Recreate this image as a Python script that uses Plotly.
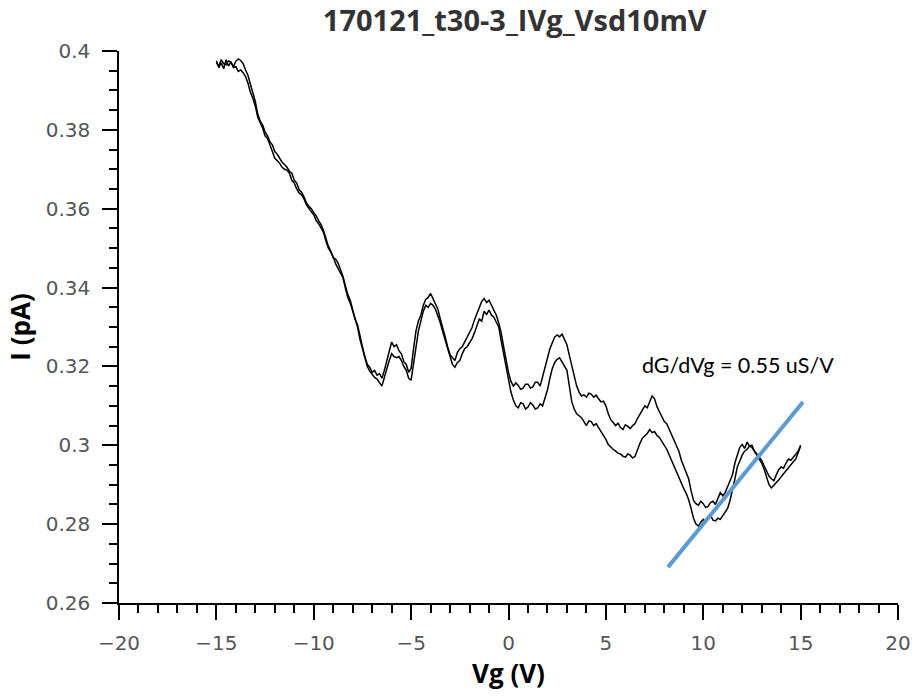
import plotly.graph_objects as go

# ---- data (gate sweep, both directions) ----
vg = [-15.0, -14.875, -14.75, -14.625, -14.5, -14.375, -14.25, -14.125,
      -14.0, -13.875, -13.75, -13.625, -13.5, -13.375, -13.25, -13.125,
      -13.0, -12.875, -12.75, -12.625, -12.5, -12.375, -12.25, -12.125,
      -12.0, -11.875, -11.75, -11.625, -11.5, -11.375, -11.25, -11.125,
      -11.0, -10.875, -10.75, -10.625, -10.5, -10.375, -10.25, -10.125,
      -10.0, -9.875, -9.75, -9.625, -9.5, -9.375, -9.25, -9.125,
      -9.0, -8.875, -8.75, -8.625, -8.5, -8.375, -8.25, -8.125,
      -8.0, -7.875, -7.75, -7.625, -7.5, -7.375, -7.25, -7.125,
      -7.0, -6.875, -6.75, -6.625, -6.5, -6.375, -6.25, -6.125,
      -6.0, -5.875, -5.75, -5.625, -5.5, -5.375, -5.25, -5.125,
      -5.0, -4.875, -4.75, -4.625, -4.5, -4.375, -4.25, -4.125,
      -4.0, -3.875, -3.75, -3.625, -3.5, -3.375, -3.25, -3.125,
      -3.0, -2.875, -2.75, -2.625, -2.5, -2.375, -2.25, -2.125,
      -2.0, -1.875, -1.75, -1.625, -1.5, -1.375, -1.25, -1.125,
      -1.0, -0.875, -0.75, -0.625, -0.5, -0.375, -0.25, -0.125,
      0.0, 0.125, 0.25, 0.375, 0.5, 0.625, 0.75, 0.875,
      1.0, 1.125, 1.25, 1.375, 1.5, 1.625, 1.75, 1.875,
      2.0, 2.125, 2.25, 2.375, 2.5, 2.625, 2.75, 2.875,
      3.0, 3.125, 3.25, 3.375, 3.5, 3.625, 3.75, 3.875,
      4.0, 4.125, 4.25, 4.375, 4.5, 4.625, 4.75, 4.875,
      5.0, 5.125, 5.25, 5.375, 5.5, 5.625, 5.75, 5.875,
      6.0, 6.125, 6.25, 6.375, 6.5, 6.625, 6.75, 6.875,
      7.0, 7.125, 7.25, 7.375, 7.5, 7.625, 7.75, 7.875,
      8.0, 8.125, 8.25, 8.375, 8.5, 8.625, 8.75, 8.875,
      9.0, 9.125, 9.25, 9.375, 9.5, 9.625, 9.75, 9.875,
      10.0, 10.125, 10.25, 10.375, 10.5, 10.625, 10.75, 10.875,
      11.0, 11.125, 11.25, 11.375, 11.5, 11.625, 11.75, 11.875,
      12.0, 12.125, 12.25, 12.375, 12.5, 12.625, 12.75, 12.875,
      13.0, 13.125, 13.25, 13.375, 13.5, 13.625, 13.75, 13.875,
      14.0, 14.125, 14.25, 14.375, 14.5, 14.625, 14.75, 14.875,
      15.0]

i_sweep_up = [0.3975, 0.3958, 0.3970, 0.3955, 0.3978, 0.3962, 0.3972, 0.3960,
              0.3974, 0.3980, 0.3976, 0.3968, 0.3952, 0.3938, 0.3915, 0.3895,
              0.3872, 0.3840, 0.3822, 0.3812, 0.3795, 0.3785, 0.3770, 0.3762,
              0.3745, 0.3738, 0.3726, 0.3718, 0.3712, 0.3705, 0.3695, 0.3690,
              0.3672, 0.3665, 0.3648, 0.3642, 0.3630, 0.3615, 0.3606, 0.3600,
              0.3590, 0.3582, 0.3570, 0.3560, 0.3545, 0.3525, 0.3505, 0.3492,
              0.3475, 0.3472, 0.3462, 0.3445, 0.3428, 0.3405, 0.3382, 0.3368,
              0.3345, 0.3320, 0.3305, 0.3275, 0.3250, 0.3225, 0.3205, 0.3198,
              0.3185, 0.3190, 0.3178, 0.3182, 0.3170, 0.3190, 0.3215, 0.3240,
              0.3262, 0.3250, 0.3255, 0.3240, 0.3232, 0.3212, 0.3205, 0.3185,
              0.3195, 0.3245, 0.3290, 0.3315, 0.3330, 0.3355, 0.3370, 0.3375,
              0.3385, 0.3372, 0.3360, 0.3345, 0.3320, 0.3300, 0.3275, 0.3250,
              0.3230, 0.3222, 0.3215, 0.3235, 0.3245, 0.3250, 0.3262, 0.3270,
              0.3285, 0.3298, 0.3318, 0.3335, 0.3350, 0.3365, 0.3372, 0.3362,
              0.3368, 0.3355, 0.3345, 0.3330, 0.3310, 0.3285, 0.3250, 0.3215,
              0.3185, 0.3162, 0.3150, 0.3158, 0.3152, 0.3142, 0.3145, 0.3155,
              0.3155, 0.3145, 0.3148, 0.3160, 0.3160, 0.3150, 0.3172, 0.3195,
              0.3220, 0.3245, 0.3260, 0.3275, 0.3280, 0.3275, 0.3282, 0.3270,
              0.3255, 0.3228, 0.3200, 0.3172, 0.3150, 0.3135, 0.3125, 0.3128,
              0.3122, 0.3132, 0.3130, 0.3122, 0.3127, 0.3118, 0.3110, 0.3112,
              0.3100, 0.3080, 0.3065, 0.3058, 0.3050, 0.3056, 0.3045, 0.3040,
              0.3052, 0.3048, 0.3042, 0.3050, 0.3055, 0.3068, 0.3080, 0.3092,
              0.3100, 0.3095, 0.3108, 0.3125, 0.3118, 0.3098, 0.3085, 0.3072,
              0.3060, 0.3055, 0.3040, 0.3025, 0.3010, 0.3000, 0.2985, 0.2962,
              0.2945, 0.2932, 0.2915, 0.2885, 0.2860, 0.2852, 0.2848, 0.2858,
              0.2852, 0.2842, 0.2845, 0.2855, 0.2858, 0.2850, 0.2866, 0.2880,
              0.2872, 0.2880, 0.2895, 0.2910, 0.2925, 0.2955, 0.2975, 0.2995,
              0.3002, 0.2992, 0.3008, 0.2998, 0.3000, 0.2985, 0.2978, 0.2970,
              0.2962, 0.2948, 0.2935, 0.2922, 0.2915, 0.2910, 0.2925, 0.2938,
              0.2945, 0.2942, 0.2955, 0.2965, 0.2962, 0.2970, 0.2975, 0.2985,
              0.3000]

i_sweep_down = [0.3970, 0.3962, 0.3978, 0.3968, 0.3965, 0.3975, 0.3972, 0.3958,
                0.3960, 0.3948, 0.3952, 0.3945, 0.3935, 0.3918, 0.3895, 0.3880,
                0.3860, 0.3832, 0.3818, 0.3805, 0.3785, 0.3778, 0.3762, 0.3742,
                0.3728, 0.3722, 0.3715, 0.3705, 0.3700, 0.3698, 0.3690, 0.3672,
                0.3665, 0.3650, 0.3640, 0.3635, 0.3625, 0.3610, 0.3600, 0.3592,
                0.3585, 0.3570, 0.3562, 0.3552, 0.3540, 0.3518, 0.3500, 0.3490,
                0.3478, 0.3460, 0.3448, 0.3440, 0.3425, 0.3398, 0.3375, 0.3360,
                0.3340, 0.3318, 0.3300, 0.3268, 0.3245, 0.3218, 0.3200, 0.3188,
                0.3180, 0.3172, 0.3168, 0.3160, 0.3150, 0.3172, 0.3195, 0.3215,
                0.3232, 0.3225, 0.3222, 0.3225, 0.3215, 0.3200, 0.3190, 0.3170,
                0.3165, 0.3205, 0.3250, 0.3290, 0.3315, 0.3340, 0.3355, 0.3350,
                0.3360, 0.3355, 0.3345, 0.3330, 0.3310, 0.3288, 0.3265, 0.3242,
                0.3225, 0.3205, 0.3198, 0.3210, 0.3215, 0.3232, 0.3245, 0.3250,
                0.3260, 0.3270, 0.3285, 0.3300, 0.3320, 0.3315, 0.3340, 0.3332,
                0.3343, 0.3330, 0.3325, 0.3312, 0.3300, 0.3265, 0.3230, 0.3195,
                0.3160, 0.3135, 0.3115, 0.3100, 0.3095, 0.3108, 0.3105, 0.3092,
                0.3097, 0.3108, 0.3102, 0.3092, 0.3095, 0.3105, 0.3100, 0.3118,
                0.3140, 0.3170, 0.3195, 0.3210, 0.3218, 0.3222, 0.3210, 0.3202,
                0.3190, 0.3150, 0.3110, 0.3092, 0.3080, 0.3075, 0.3070, 0.3060,
                0.3050, 0.3062, 0.3060, 0.3050, 0.3055, 0.3045, 0.3035, 0.3028,
                0.3015, 0.3002, 0.2995, 0.2990, 0.2985, 0.2980, 0.2978, 0.2972,
                0.2970, 0.2978, 0.2975, 0.2968, 0.2972, 0.2990, 0.3005, 0.3018,
                0.3025, 0.3030, 0.3040, 0.3032, 0.3035, 0.3025, 0.3020, 0.3008,
                0.3000, 0.2990, 0.2975, 0.2962, 0.2945, 0.2932, 0.2920, 0.2905,
                0.2890, 0.2878, 0.2862, 0.2840, 0.2815, 0.2800, 0.2795, 0.2805,
                0.2812, 0.2805, 0.2818, 0.2822, 0.2810, 0.2808, 0.2815, 0.2812,
                0.2822, 0.2830, 0.2840, 0.2860, 0.2885, 0.2915, 0.2945, 0.2962,
                0.2975, 0.2985, 0.2990, 0.2998, 0.2995, 0.2985, 0.2975, 0.2968,
                0.2955, 0.2940, 0.2920, 0.2900, 0.2892, 0.2898, 0.2905, 0.2912,
                0.2920, 0.2928, 0.2935, 0.2945, 0.2950, 0.2958, 0.2965, 0.2980,
                0.2998]

fit_vg = [8.19, 15.12]
fit_i = [0.2691, 0.3110]

title_text = "170121_t30-3_IVg_Vsd10mV"
x_title = "Vg (V)"
y_title = "I (pA)"
note_text = "dG/dVg = 0.55 uS/V"

fig = go.Figure()
fig.add_trace(go.Scatter(x=vg, y=i_sweep_up, mode="lines",
                         line=dict(color="black", width=1.5), showlegend=False))
fig.add_trace(go.Scatter(x=vg, y=i_sweep_down, mode="lines",
                         line=dict(color="black", width=1.5), showlegend=False))
fig.add_trace(go.Scatter(x=fit_vg, y=fit_i, mode="lines",
                         line=dict(color="#5B9BD5", width=4), showlegend=False))

fig.add_annotation(x=6.76, y=0.3204, text=note_text, showarrow=False,
                   xanchor="left", yanchor="middle",
                   font=dict(family="Lato", size=21.5, color="black"))

axis_common = dict(showline=True, linecolor="black", linewidth=1.5,
                   ticks="outside", ticklen=15, tickwidth=1.5, tickcolor="black",
                   showgrid=False, zeroline=False, automargin=False,
                   tickfont=dict(family="DejaVu Sans", size=20, color="#555555"))

fig.update_layout(
    width=916, height=696,
    margin=dict(l=119, r=18, t=51, b=93),
    plot_bgcolor="white", paper_bgcolor="white",
    title=dict(text=title_text, x=0.562, xanchor="center", y=0.970, yanchor="middle",
               font=dict(family="Open Sans", size=29, color="#333333", weight="bold")),
    xaxis=dict(range=[-20, 20], dtick=5, tick0=0, ticklabelstandoff=6,
               minor=dict(dtick=1, ticklen=8, tickwidth=1.5, tickcolor="black", ticks="outside"),
               title=dict(text=x_title, standoff=10,
                          font=dict(family="Open Sans", size=26, color="black", weight="bold")),
               **axis_common),
    yaxis=dict(range=[0.26, 0.4], dtick=0.02, tick0=0.26, ticklabelstandoff=8,
               minor=dict(dtick=0.005, ticklen=8, tickwidth=1.5, tickcolor="black", ticks="outside"),
               title=dict(text=y_title, standoff=8,
                          font=dict(family="Open Sans", size=26, color="black", weight="bold")),
               **axis_common),
)

fig.write_html("out.html", config={"displayModeBar": False},
               post_script="document.body.style.margin='0';")
